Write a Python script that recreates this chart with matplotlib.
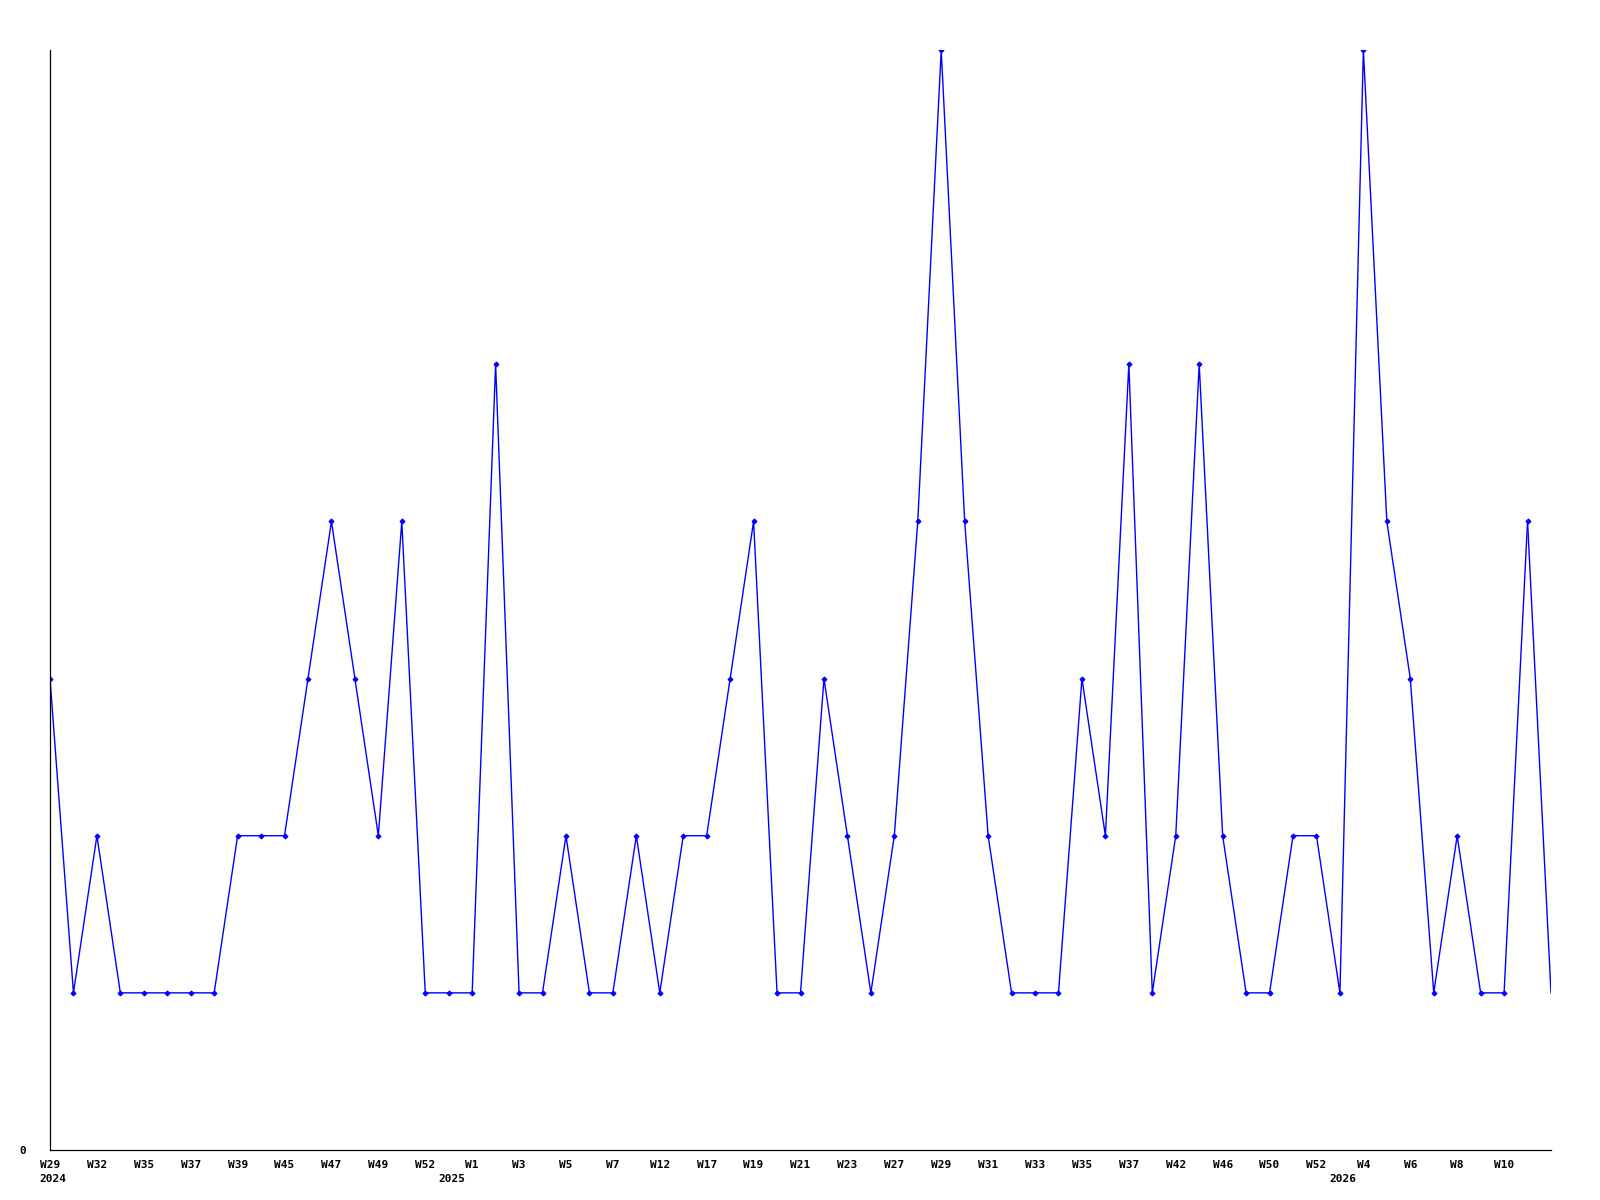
import matplotlib
matplotlib.use("Agg")
import matplotlib.pyplot as plt

# weekly counts, one per week that has data
counts = [3, 1, 2, 1, 1, 1, 1, 1, 2, 2, 2, 3, 4, 3, 2, 4, 1, 1, 1, 5,
          1, 1, 2, 1, 1, 2, 1, 2, 2, 3, 4, 1, 1, 3, 2, 1, 2, 4, 7, 4,
          2, 1, 1, 1, 3, 2, 5, 1, 2, 5, 2, 1, 1, 2, 2, 1, 7, 4, 3, 1,
          2, 1, 1, 4, 1]

# labels shown on every second point
week_labels = ["W29", "W32", "W35", "W37", "W39", "W45", "W47", "W49", "W52", "W1",
               "W3", "W5", "W7", "W12", "W17", "W19", "W21", "W23", "W27", "W29",
               "W31", "W33", "W35", "W37", "W42", "W46", "W50", "W52", "W4", "W6",
               "W8", "W10"]

# year markers and the point where each year starts
years = ["2024", "2025", "2026"]
year_starts = [0, 17, 55]

FONT = dict(family="DejaVu Sans Mono", weight="bold", size=8)

fig = plt.figure(figsize=(16, 12), dpi=100)
ax = fig.add_axes([50 / 1600, 50 / 1200, 1501 / 1600, 1100 / 1200])

x = list(range(len(counts)))
ax.plot(x[:-1], counts[:-1], color="#0000ff", lw=1, marker="D", ms=2.5,
        markeredgewidth=0.8)
ax.plot(x[-2:], counts[-2:], color="#0000ff", lw=1)

ax.set_xlim(0, len(counts) - 1)
ax.set_ylim(0, max(counts))

ax.spines["top"].set_visible(False)
ax.spines["right"].set_visible(False)
for side in ["left", "bottom"]:
    ax.spines[side].set_linewidth(0.9)
    ax.spines[side].set_color("black")

ax.set_xticks(list(range(0, 2 * len(week_labels), 2)))
ax.set_xticklabels(week_labels, fontdict=FONT)
ax.tick_params(axis="x", length=0, pad=7)

ax.set_yticks([0])
ax.set_yticklabels(["0"], fontdict=FONT)
ax.tick_params(axis="y", length=0, pad=17)

for yr, pos in zip(years, year_starts):
    ax.annotate(yr, xy=(pos, 0), xycoords=("data", "axes fraction"),
                xytext=(2, -17), textcoords="offset points",
                ha="center", va="top", **FONT)

fig.savefig("out.png", dpi=100, facecolor="white")
